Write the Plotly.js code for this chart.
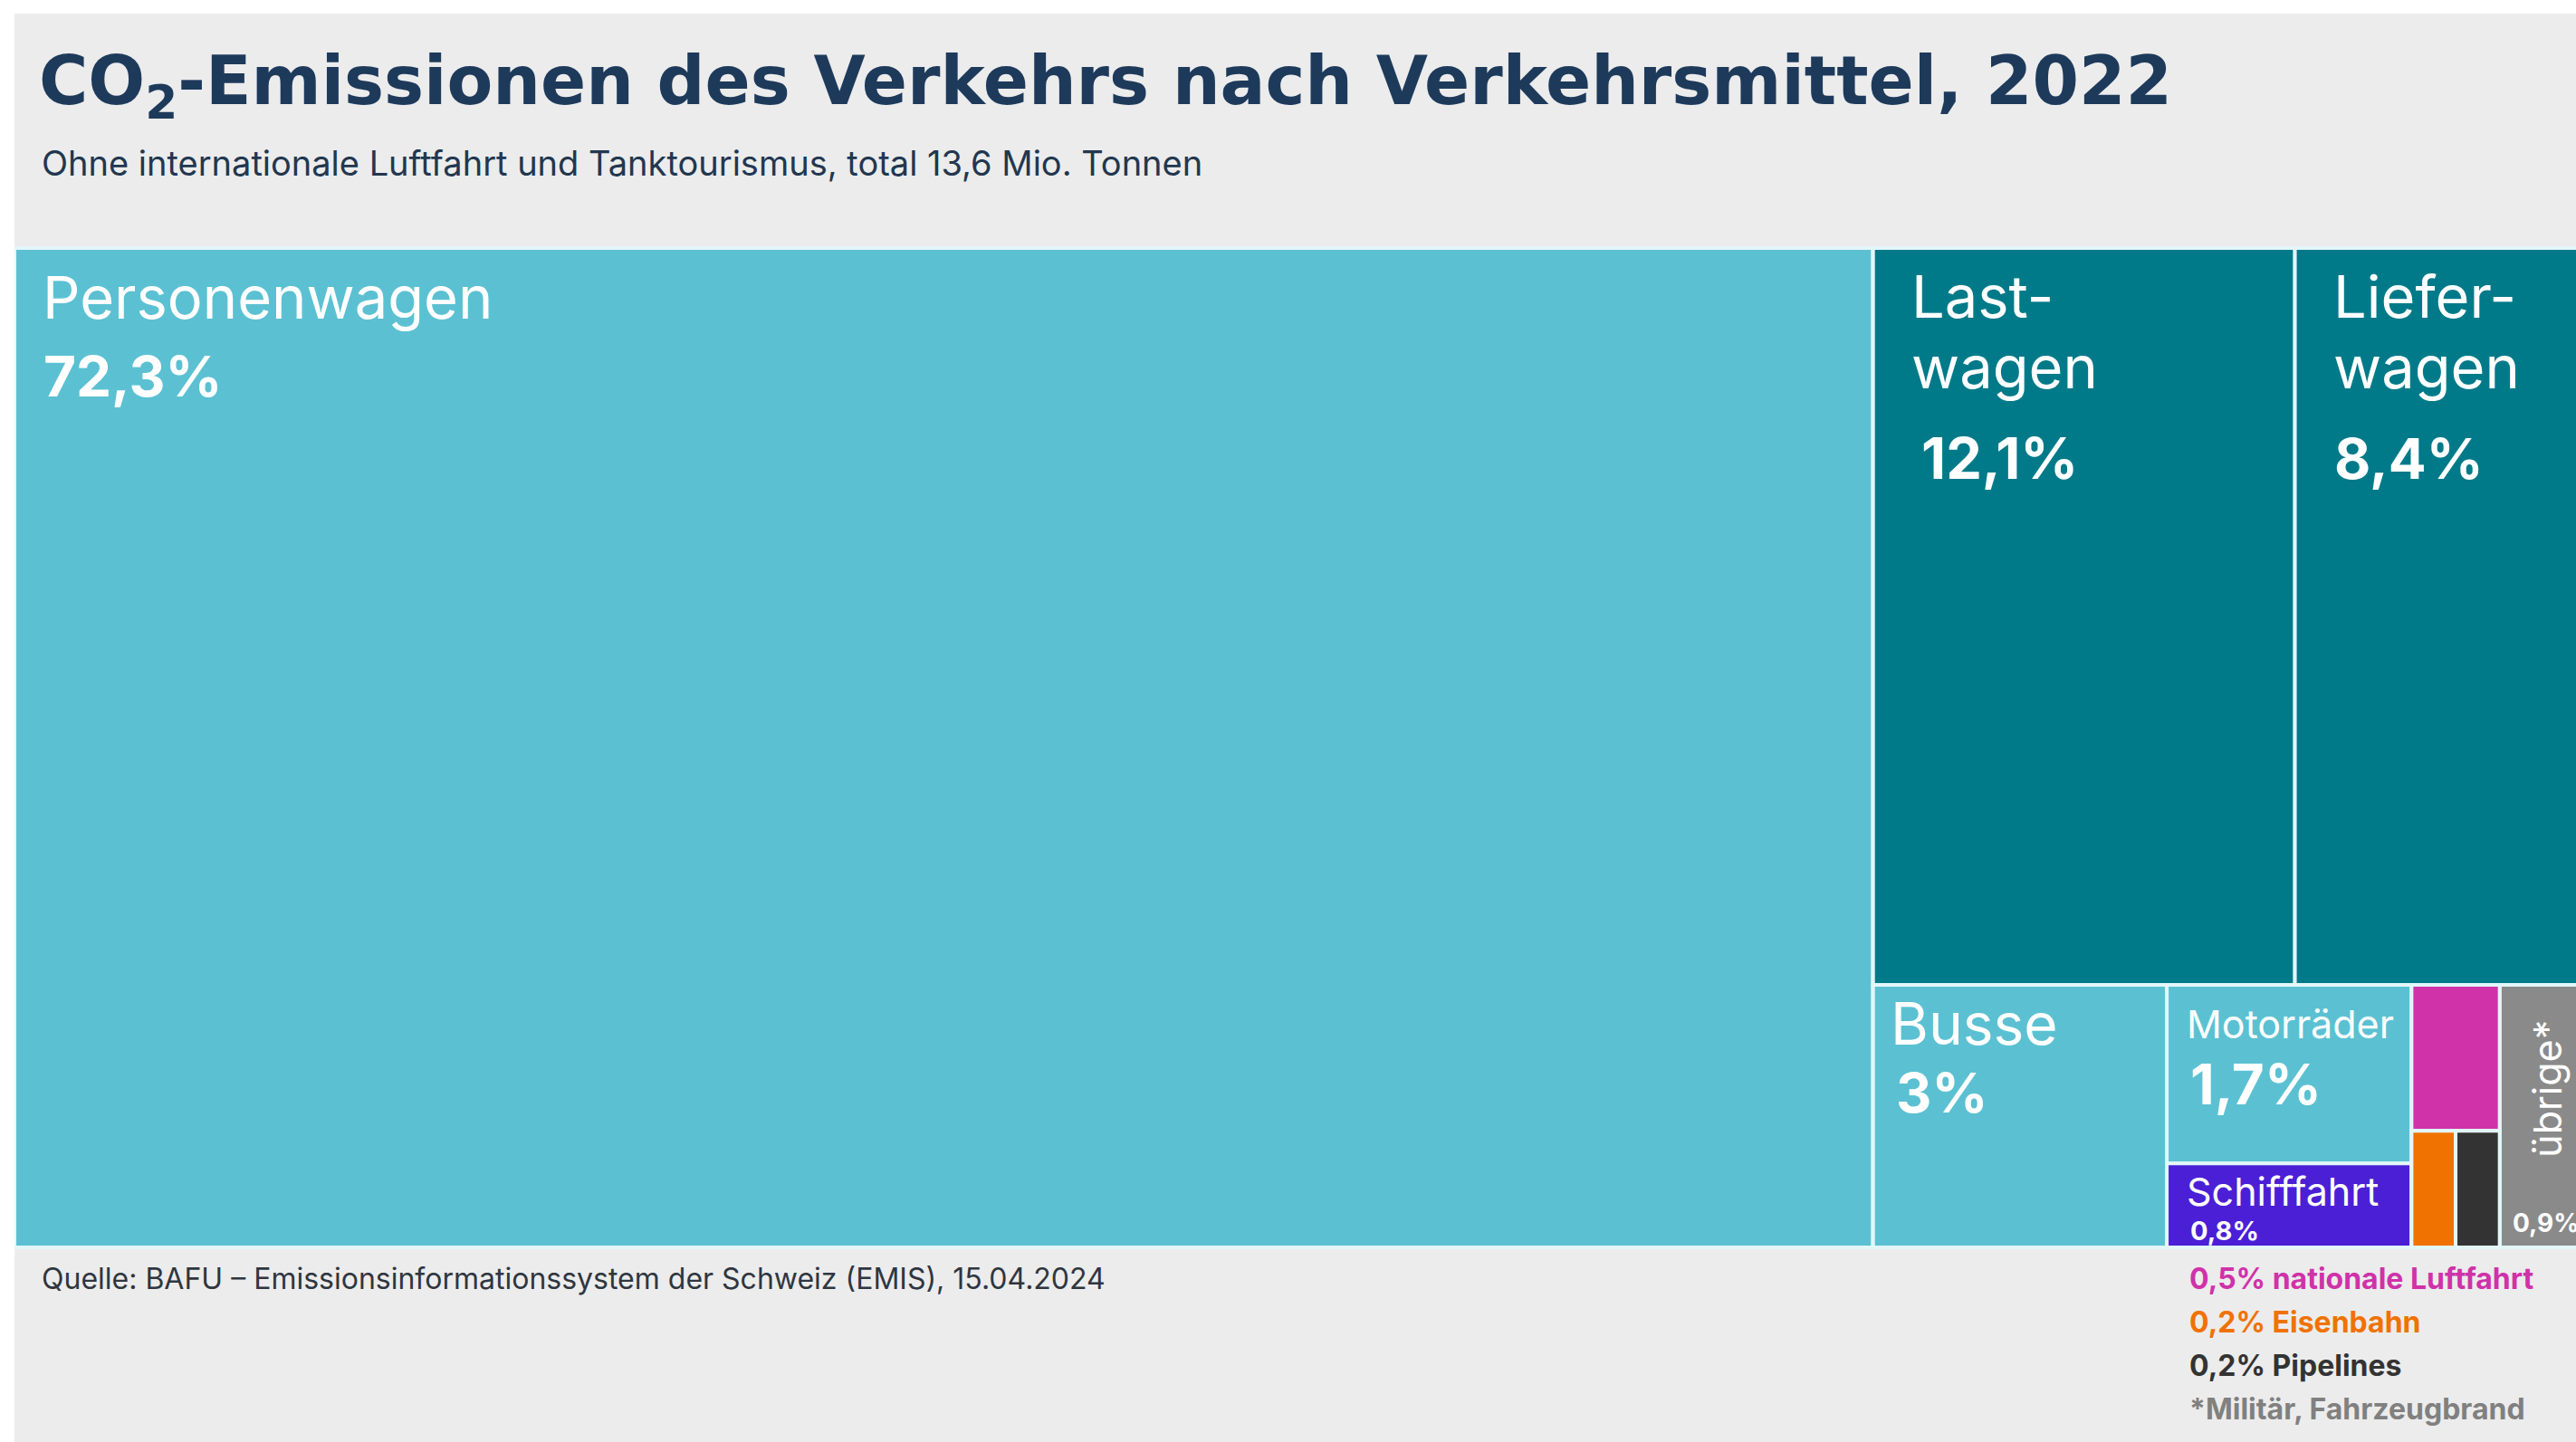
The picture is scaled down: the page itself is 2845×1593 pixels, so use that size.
<!DOCTYPE html>
<html>
<head>
<meta charset="utf-8">
<script src="https://cdn.plot.ly/plotly-3.0.1.min.js"></script>
<style>
  html, body { margin: 0; padding: 0; background: #ffffff; overflow: hidden; width: 2845px; height: 1593px; }
  #chart { position: absolute; left: 16px; top: 15px; width: 2842px; height: 1578px; }
</style>
</head>
<body>
<div id="chart"></div>
<script>
// ---------------- data ----------------
const categories = ["Personenwagen", "Lastwagen", "Lieferwagen", "Busse", "Motorräder",
                    "Schifffahrt", "nationale Luftfahrt", "Eisenbahn", "Pipelines", "übrige"];
const shares = [72.3, 12.1, 8.4, 3, 1.7, 0.8, 0.5, 0.2, 0.2, 0.9];
const cellNames = ["Personenwagen", "Last-<br>wagen", "Liefer-<br>wagen", "Busse", "Motorräder",
                   "Schifffahrt", "", "", "", "übrige*"];
const belowCategories = ["nationale Luftfahrt", "Eisenbahn", "Pipelines"];
const footnote = "*Militär, Fahrzeugbrand";
const titleText = "CO<sub>2</sub>-Emissionen des Verkehrs nach Verkehrsmittel, 2022";
const subtitleText = "Ohne internationale Luftfahrt und Tanktourismus, total 13,6 Mio. Tonnen";
const sourceText = "Quelle: BAFU – Emissionsinformationssystem der Schweiz (EMIS), 15.04.2024";

// nesting of the original layout (grouping nodes carry no value of their own)
const tree = {
  root:   ["Personenwagen", "rest"],
  rest:   ["top", "bottom"],
  top:    ["Lastwagen", "Lieferwagen"],
  bottom: ["Busse", "pair", "small", "übrige"],
  pair:   ["Motorräder", "Schifffahrt"],
  small:  ["nationale Luftfahrt", "rail"],
  rail:   ["Eisenbahn", "Pipelines"]
};

// ---------------- styles ----------------
const colors = ["#5bc1d2", "#007a89", "#007a89", "#5bc1d2", "#5bc1d2",
                "#4b1fd6", "#cf32a9", "#f07200", "#333333", "#8a8a8a"];
const FONT = "Inter, 'Noto Sans', sans-serif";
const TITLE_FONT = "'DejaVu Sans', Inter, sans-serif";
const W = 2842, H = 1578;
const M = { l: 0, r: 0, t: 259, b: 215 };
const PX0 = 16, PY0 = 15;          // page offset of the chart div
const plotW = W - M.l - M.r, plotH = H - M.t - M.b;
const ASC = 0.969;                  // font ascent (em)

// label placement relative to each cell (pixels)
const labelStyle = {
  "Personenwagen": { name: { dx: 30, dy: 77, size: 65 }, value: { dx: 31, dy: 163, size: 62 } },
  "Lastwagen":     { name: { dx: 41, dy: 76, size: 65, lh: 78 }, value: { dx: 52, dy: 254, size: 63 } },
  "Lieferwagen":   { name: { dx: 41, dy: 76, size: 65, lh: 78 }, value: { dx: 42, dy: 254, size: 62 } },
  "Busse":         { name: { dx: 18, dy: 65, size: 64 }, value: { dx: 24, dy: 140, size: 61 } },
  "Motorräder":    { name: { dx: 21, dy: 58, size: 43 }, value: { dx: 25, dy: 131, size: 62 } },
  "Schifffahrt":   { name: { dx: 21, dy: 45, size: 43 }, value: { dx: 25, dy: 84, size: 29 } },
  "übrige":        { name: { rot: true, cx: 52, cy: 115, size: 43 }, value: { dx: 13, dy: 272, size: 28 } }
};

function fmt(v) { return (Number.isInteger(v) ? String(v) : v.toFixed(1).replace('.', ',')) + '%'; }

// ---------------- treemap nodes ----------------
const ids = [], parents = [], values = [], nodeColors = [];
function walk(id, parent) {
  ids.push(id); parents.push(parent);
  const ci = categories.indexOf(id);
  if (ci >= 0) { values.push(shares[ci]); nodeColors.push(colors[ci]); }
  else { values.push(0); nodeColors.push('#ececec'); }
  (tree[id] || []).forEach(k => walk(k, id));
}
walk('root', '');

// slice-dice geometry (same rule as the treemap tiling) for label placement
function total(id) {
  const ci = categories.indexOf(id);
  return ci >= 0 ? shares[ci] : tree[id].reduce((s, k) => s + total(k), 0);
}
const rects = {};
function tile(id, x0, y0, x1, y1, depth) {
  rects[id] = { x0, y0, x1, y1 };
  const kids = tree[id]; if (!kids) return;
  const tot = total(id);
  let p = depth % 2 === 0 ? x0 : y0;
  kids.forEach(k => {
    const f = total(k) / tot;
    if (depth % 2 === 0) { const q = p + (x1 - x0) * f; tile(k, p, y0, q, y1, depth + 1); p = q; }
    else { const q = p + (y1 - y0) * f; tile(k, x0, p, x1, q, depth + 1); p = q; }
  });
}
tile('root', 0, 0, plotW, plotH, 0);
function pageRect(id) {
  const r = rects[id];
  return { x0: PX0 + M.l + r.x0, y0: PY0 + M.t + r.y0, x1: PX0 + M.l + r.x1, y1: PY0 + M.t + r.y1 };
}

// text annotation positioned by its baseline, in page pixels
function textAnn(text, pageX, baseY, size, color, bold) {
  const boxTop = baseY - ASC * size;
  return {
    text, xref: 'paper', yref: 'paper',
    x: (pageX - PX0 - M.l) / plotW, y: 1 - (boxTop - PY0 - M.t) / plotH,
    xanchor: 'left', yanchor: 'top', align: 'left', showarrow: false, borderpad: 0,
    font: { family: FONT, size, color, weight: bold ? 700 : 400 }
  };
}

const annotations = [];
categories.forEach((c, i) => {
  const st = labelStyle[c]; if (!st) return;
  const r = pageRect(c);
  if (st.name.rot) {
    annotations.push({
      text: cellNames[i], xref: 'paper', yref: 'paper', textangle: -90,
      x: (r.x0 + st.name.cx - PX0 - M.l) / plotW, y: 1 - (r.y0 + st.name.cy - PY0 - M.t) / plotH,
      xanchor: 'center', yanchor: 'middle', showarrow: false, borderpad: 0,
      font: { family: FONT, size: st.name.size, color: '#ffffff', weight: 400 }
    });
  } else {
    cellNames[i].split('<br>').forEach((line, j) => {
      annotations.push(textAnn(line, r.x0 + st.name.dx, r.y0 + st.name.dy + j * (st.name.lh || 0),
                               st.name.size, '#ffffff', false));
    });
  }
  annotations.push(textAnn(fmt(shares[i]), r.x0 + st.value.dx, r.y0 + st.value.dy, st.value.size, '#ffffff', true));
});

// notes for the small cells, below the chart
const noteX = pageRect('pair').x0 + 24;
belowCategories.forEach((c, j) => {
  const i = categories.indexOf(c);
  annotations.push(textAnn(fmt(shares[i]) + ' ' + c, noteX, 1423 + j * 48, 32, colors[i], true));
});
annotations.push(textAnn(footnote, noteX, 1423 + 3 * 48, 32, '#808080', true));

// subtitle and source
annotations.push(textAnn(subtitleText, 45, 193, 38, '#22374f', false));
annotations.push(textAnn(sourceText, 45, 1423, 32, '#2f3640', false));

const trace = {
  type: 'treemap',
  ids: ids, labels: ids, parents: parents, values: values,
  branchvalues: 'remainder', sort: false,
  tiling: { packing: 'slice-dice', pad: 0 },
  marker: { colors: nodeColors, line: { width: 4, color: '#e3f6f9' }, pad: { t: 0, l: 0, r: 0, b: 0 } },
  root: { color: 'rgba(0,0,0,0)' },
  pathbar: { visible: false },
  textinfo: 'none',
  hoverinfo: 'label+value',
  domain: { x: [0, 1], y: [0, 1] }
};

const TITLE_SIZE = 74;
const layout = {
  width: W, height: H,
  margin: M,
  paper_bgcolor: '#ececec',
  plot_bgcolor: '#ececec',
  showlegend: false,
  title: {
    text: titleText,
    font: { family: TITLE_FONT, size: TITLE_SIZE, color: '#1e3a5b', weight: 700 },
    xref: 'container', x: (43 - PX0) / W, xanchor: 'left',
    yref: 'container', y: 1 - (115 - 0.7 * TITLE_SIZE - PY0) / H, yanchor: 'top'
  },
  annotations: annotations
};

Plotly.newPlot('chart', [trace], layout, { displayModeBar: false, staticPlot: true });
</script>
</body>
</html>
